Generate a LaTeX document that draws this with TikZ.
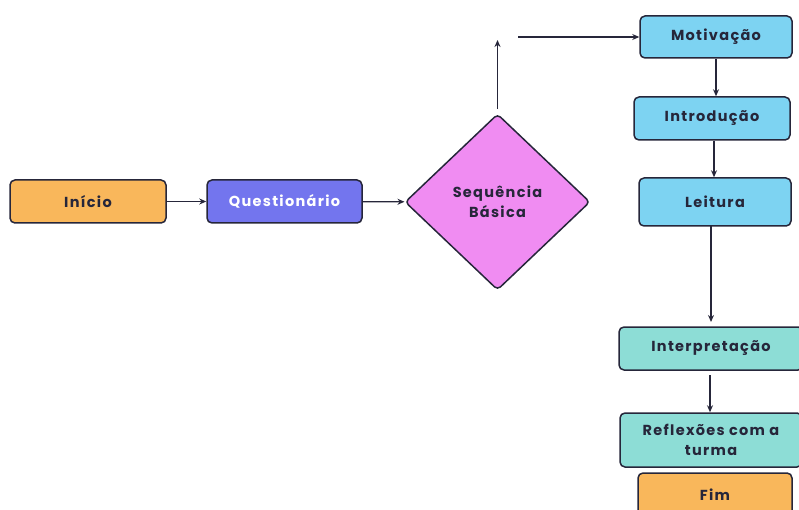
\documentclass[tikz,border=0pt]{standalone}
\usepackage{fontspec}
\setmainfont{Poppins}[LetterSpace=9]
\usetikzlibrary{shapes.geometric,arrows.meta}

\definecolor{orangeI}{HTML}{F9B75B}
\definecolor{violetQ}{HTML}{7375EE}
\definecolor{pinkS}{HTML}{F08CF2}
\definecolor{blueM}{HTML}{7DD3F2}
\definecolor{tealR}{HTML}{8DDDD6}
\definecolor{inkT}{HTML}{26263A}

\tikzset{
  box/.style={draw=inkT, line width=1.5pt, rounded corners=5pt, align=center,
    text=inkT, inner sep=0pt, font=\bfseries\fontsize{14.5}{20}\selectfont},
  arr/.style={-{Stealth[length=7pt,width=6pt]}, line width=1.2pt, draw=inkT},
}

\begin{document}
\begin{tikzpicture}[x=1pt,y=-1pt]
\useasboundingbox (0,0) rectangle (799,510);
\clip (0,0) rectangle (799,510);
\node[box, fill=orangeI, minimum width=156pt, minimum height=43pt] (inicio) at (88,201.5) {Início};
\node[box, fill=violetQ, text=white, minimum width=155pt, minimum height=43pt] (quest) at (284.5,201.5) {Questionário};
\node[box, diamond, fill=pinkS, minimum width=185pt, minimum height=176pt, rounded corners=4pt] (seq) at (497.5,202) {Sequência\\Básica};
\node[box, fill=blueM, minimum width=152pt, minimum height=42pt] (motiv) at (716,37) {Motivação};
\node[box, fill=blueM, minimum width=156pt, minimum height=43pt] (intro) at (712,118.5) {Introdução};
\node[box, fill=blueM, minimum width=152pt, minimum height=48pt] (leit) at (715,202) {Leitura};
\node[box, fill=tealR, minimum width=184pt, minimum height=43pt] (interp) at (711,348.5) {Interpretação};
\node[box, fill=tealR, minimum width=182pt, minimum height=54pt] (refl) at (711,440) {Reflexões com a\\turma};
\node[box, fill=orangeI, minimum width=154pt, minimum height=44pt] (fim) at (715,495) {Fim};
\coordinate (up) at (497.5,40);
\coordinate (gap) at (518,37);
\coordinate (lbot) at (711,226);
\coordinate (ibot) at (710,375);

\draw[arr] (inicio) -- (quest);
\draw[arr] (quest) -- (seq);
\draw[arr] (seq.north) ++(0,-4) -- (up);
\draw[arr] (gap) -- (motiv.west);
\draw[arr] (motiv.south) -- (motiv.south |- intro.north);
\draw[arr] (intro.south -| 714,0) -- (714,0 |- leit.north);
\draw[arr] (lbot) -- (711,322);
\draw[arr] (ibot) -- (refl.north -| ibot);
\end{tikzpicture}
\end{document}
